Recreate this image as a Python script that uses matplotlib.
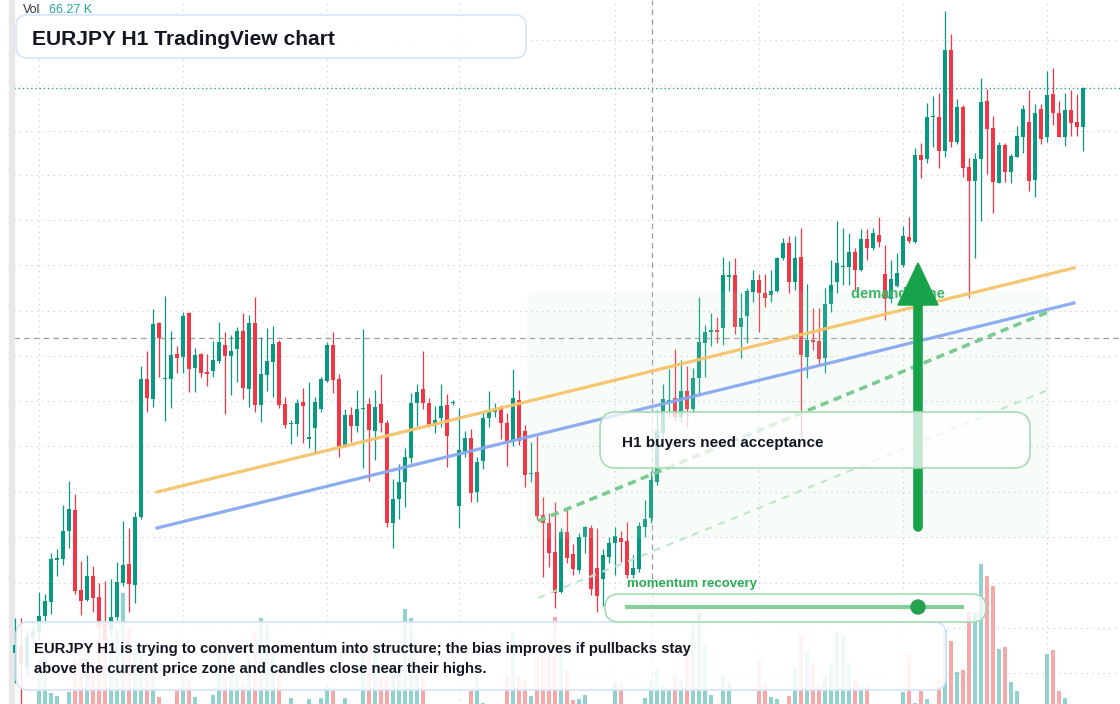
import numpy as np
import matplotlib
matplotlib.use("Agg")
import matplotlib.pyplot as plt
import matplotlib.transforms as mtransforms
from matplotlib.patches import FancyBboxPatch, Polygon, Rectangle, Circle

plt.rcParams['font.family'] = ['Liberation Sans', 'DejaVu Sans']
plt.rcParams['lines.scale_dashes'] = False

W, H = 1120, 704

# EURJPY H1 candles (oldest -> newest)
opens = np.array([
    164.347, 164.354, 164.332, 164.363, 164.368, 164.384, 164.398, 164.440, 164.441, 164.469,
    164.490, 164.410, 164.400, 164.424, 164.403, 164.376, 164.370, 164.383, 164.417, 164.436,
    164.415, 164.483, 164.621, 164.601, 164.677, 164.621, 164.621, 164.646, 164.643, 164.687,
    164.632, 164.646, 164.628, 164.629, 164.639, 164.655, 164.644, 164.651, 164.669, 164.611,
    164.677, 164.595, 164.625, 164.638, 164.658, 164.596, 164.576, 164.576, 164.598, 164.561,
    164.572, 164.591, 164.619, 164.655, 164.621, 164.555, 164.585, 164.574, 164.591, 164.596,
    164.569, 164.596, 164.577, 164.477, 164.501, 164.518, 164.542, 164.597, 164.611, 164.597,
    164.576, 164.582, 164.595, 164.597, 164.494, 164.547, 164.562, 164.508, 164.539, 164.582,
    164.588, 164.591, 164.577, 164.559, 164.600, 164.569, 164.526, 164.528, 164.485, 164.477,
    164.448, 164.408, 164.468, 164.446, 164.430, 164.463, 164.472, 164.432, 164.421, 164.443,
    164.457, 164.462, 164.459, 164.425, 164.431, 164.473, 164.482, 164.518, 164.567, 164.597,
    164.602, 164.583, 164.609, 164.591, 164.622, 164.657, 164.668, 164.670, 164.672, 164.723,
    164.725, 164.673, 164.684, 164.708, 164.720, 164.707, 164.705, 164.709, 164.742, 164.757,
    164.718, 164.743, 164.643, 164.660, 164.659, 164.642, 164.696, 164.718, 164.733, 164.733,
    164.748, 164.730, 164.761, 164.752, 164.765, 164.726, 164.701, 164.714, 164.735, 164.763,
    164.758, 164.845, 164.841, 164.883, 164.883, 164.849, 164.950, 164.858, 164.893, 164.833,
    164.819, 164.841, 164.899, 164.872, 164.817, 164.855, 164.828, 164.843, 164.863, 164.878,
    164.820, 164.891, 164.863, 164.906, 164.887, 164.863, 164.890, 164.878, 164.873])

closes = np.array([
    164.355, 164.336, 164.363, 164.369, 164.384, 164.399, 164.441, 164.442, 164.469, 164.491,
    164.409, 164.399, 164.424, 164.402, 164.373, 164.360, 164.383, 164.418, 164.435, 164.416,
    164.483, 164.621, 164.602, 164.676, 164.662, 164.622, 164.645, 164.642, 164.684, 164.631,
    164.645, 164.627, 164.626, 164.640, 164.658, 164.644, 164.649, 164.669, 164.612, 164.677,
    164.595, 164.626, 164.639, 164.656, 164.595, 164.575, 164.577, 164.597, 164.594, 164.563,
    164.598, 164.621, 164.655, 164.620, 164.553, 164.585, 164.574, 164.591, 164.592, 164.570,
    164.593, 164.577, 164.477, 164.501, 164.518, 164.543, 164.597, 164.608, 164.597, 164.575,
    164.580, 164.594, 164.564, 164.598, 164.550, 164.562, 164.507, 164.538, 164.582, 164.589,
    164.591, 164.577, 164.559, 164.602, 164.559, 164.525, 164.527, 164.484, 164.477, 164.447,
    164.407, 164.468, 164.442, 164.431, 164.463, 164.473, 164.411, 164.404, 164.445, 164.457,
    164.464, 164.458, 164.425, 164.432, 164.474, 164.481, 164.520, 164.569, 164.601, 164.600,
    164.583, 164.609, 164.591, 164.622, 164.658, 164.668, 164.670, 164.668, 164.725, 164.725,
    164.673, 164.682, 164.709, 164.720, 164.707, 164.702, 164.709, 164.742, 164.757, 164.718,
    164.742, 164.645, 164.660, 164.658, 164.641, 164.696, 164.715, 164.737, 164.734, 164.748,
    164.730, 164.761, 164.752, 164.767, 164.758, 164.701, 164.721, 164.727, 164.764, 164.759,
    164.845, 164.840, 164.883, 164.884, 164.849, 164.950, 164.858, 164.893, 164.832, 164.819,
    164.841, 164.898, 164.871, 164.818, 164.855, 164.828, 164.844, 164.864, 164.891, 164.819,
    164.887, 164.861, 164.905, 164.887, 164.863, 164.890, 164.877, 164.873, 164.912])

highs = np.array([
    164.382, 164.382, 164.370, 164.375, 164.408, 164.406, 164.447, 164.451, 164.495, 164.519,
    164.506, 164.439, 164.445, 164.434, 164.417, 164.419, 164.421, 164.438, 164.479, 164.472,
    164.488, 164.634, 164.649, 164.691, 164.678, 164.704, 164.669, 164.654, 164.688, 164.688,
    164.652, 164.647, 164.646, 164.659, 164.678, 164.668, 164.665, 164.673, 164.687, 164.685,
    164.703, 164.663, 164.672, 164.674, 164.660, 164.603, 164.580, 164.601, 164.612, 164.618,
    164.603, 164.623, 164.658, 164.668, 164.626, 164.591, 164.593, 164.610, 164.671, 164.602,
    164.610, 164.626, 164.580, 164.521, 164.536, 164.552, 164.607, 164.616, 164.649, 164.602,
    164.594, 164.616, 164.606, 164.600, 164.592, 164.569, 164.571, 164.543, 164.588, 164.609,
    164.597, 164.595, 164.587, 164.631, 164.610, 164.575, 164.558, 164.564, 164.503, 164.487,
    164.498, 164.472, 164.492, 164.456, 164.467, 164.474, 164.475, 164.472, 164.451, 164.463,
    164.473, 164.469, 164.478, 164.445, 164.478, 164.500, 164.529, 164.590, 164.616, 164.631,
    164.651, 164.640, 164.634, 164.632, 164.703, 164.675, 164.687, 164.683, 164.743, 164.739,
    164.742, 164.707, 164.712, 164.730, 164.726, 164.726, 164.730, 164.743, 164.762, 164.764,
    164.764, 164.772, 164.716, 164.692, 164.692, 164.712, 164.740, 164.779, 164.772, 164.767,
    164.752, 164.771, 164.771, 164.772, 164.783, 164.755, 164.740, 164.747, 164.774, 164.783,
    164.852, 164.857, 164.897, 164.904, 164.907, 164.989, 164.966, 164.901, 164.895, 164.842,
    164.847, 164.922, 164.911, 164.884, 164.858, 164.857, 164.846, 164.874, 164.895, 164.910,
    164.896, 164.896, 164.929, 164.932, 164.899, 164.907, 164.910, 164.906, 164.913])

lows = np.array([
    164.317, 164.294, 164.325, 164.358, 164.360, 164.376, 164.386, 164.424, 164.435, 164.452,
    164.406, 164.385, 164.399, 164.388, 164.360, 164.352, 164.365, 164.380, 164.414, 164.388,
    164.397, 164.481, 164.588, 164.593, 164.623, 164.579, 164.592, 164.627, 164.627, 164.608,
    164.608, 164.623, 164.614, 164.623, 164.637, 164.586, 164.605, 164.618, 164.601, 164.593,
    164.588, 164.578, 164.609, 164.603, 164.592, 164.572, 164.556, 164.564, 164.557, 164.552,
    164.546, 164.588, 164.618, 164.607, 164.543, 164.553, 164.558, 164.568, 164.532, 164.519,
    164.540, 164.568, 164.473, 164.452, 164.481, 164.493, 164.537, 164.574, 164.591, 164.573,
    164.567, 164.573, 164.533, 164.595, 164.472, 164.543, 164.498, 164.498, 164.531, 164.573,
    164.583, 164.561, 164.534, 164.554, 164.555, 164.513, 164.518, 164.480, 164.423, 164.433,
    164.392, 164.407, 164.437, 164.425, 164.427, 164.447, 164.405, 164.388, 164.394, 164.437,
    164.425, 164.438, 164.422, 164.422, 164.428, 164.463, 164.477, 164.515, 164.556, 164.583,
    164.580, 164.578, 164.573, 164.587, 164.605, 164.623, 164.654, 164.657, 164.655, 164.709,
    164.666, 164.642, 164.657, 164.698, 164.668, 164.693, 164.698, 164.708, 164.740, 164.707,
    164.710, 164.563, 164.622, 164.650, 164.634, 164.627, 164.688, 164.707, 164.715, 164.715,
    164.710, 164.729, 164.740, 164.750, 164.753, 164.680, 164.697, 164.713, 164.733, 164.757,
    164.757, 164.822, 164.837, 164.853, 164.832, 164.843, 164.853, 164.856, 164.823, 164.702,
    164.742, 164.779, 164.826, 164.787, 164.817, 164.818, 164.817, 164.843, 164.847, 164.809,
    164.803, 164.856, 164.858, 164.875, 164.863, 164.854, 164.864, 164.864, 164.849])

# volume per bar, thousands
volumes = np.array([
    2, 2, 2, 2, 48, 53, 15, 12, 2, 16,
    49, 49, 49, 46, 68, 82, 68, 78, 115, 81,
    55, 55, 50, 61, 11, 2, 2, 18, 35, 28,
    11, 2, 2, 13, 55, 55, 52, 35, 23, 50,
    75, 90, 83, 55, 38, 2, 10, 2, 2, 9,
    2, 10, 23, 17, 2, 10, 2, 2, 55, 66,
    61, 31, 33, 46, 46, 99, 90, 48, 33, 2,
    2, 2, 2, 2, 2, 2, 17, 42, 5, 2,
    2, 2, 31, 76, 33, 27, 12, 55, 55, 55,
    91, 60, 38, 8, 9, 13, 2, 2, 2, 2,
    26, 22, 2, 2, 2, 10, 28, 39, 23, 18,
    34, 28, 55, 83, 95, 63, 13, 2, 32, 26,
    2, 2, 2, 2, 48, 23, 11, 9, 2, 12,
    41, 74, 57, 43, 22, 33, 44, 76, 73, 45,
    27, 21, 23, 2, 2, 2, 2, 2, 16, 55,
    5, 17, 9, 2, 28, 78, 67, 36, 38, 96,
    95, 144, 132, 122, 59, 61, 26, 17, 2, 2,
    2, 2, 54, 58, 17, 10, 2, 2, 2])

grid_prices = [164.960, 164.915, 164.869, 164.825, 164.780, 164.735, 164.689, 164.644,
               164.599, 164.554, 164.508, 164.463, 164.417, 164.372, 164.327]
grid_bars = [4, 28, 52, 74, 100, 124, 148, 172]
last_price = 164.912
cross_bar, cross_price = 106.17, 164.662

# drawn trend lines: (bar, price) endpoints
orange_line = ([23.67, 176.5], [164.508, 164.732])
blue_line = ([23.67, 176.5], [164.472, 164.697])
green_dash = ([87.17, 172.17], [164.479, 164.688])
green_dash_light = ([87.17, 172.17], [164.402, 164.610])

UP, DOWN = '#089981', '#f23645'
UP_VOL, DOWN_VOL = '#92d2cc', '#f7a9a9'

fig = plt.figure(figsize=(W / 100, H / 100), dpi=100)
fig.patch.set_facecolor('white')
ax_vol = fig.add_axes([0, 0, 1, 1], zorder=0)
ax = fig.add_axes([0, 0, 1, 1], zorder=1, sharex=ax_vol)
ax.patch.set_alpha(0)
for a in (ax_vol, ax):
    a.set_axis_off()
ax.set_xlim(-2.5, 184.17)
ax.set_ylim(164.296, 165.0)
# volume pane base sits a few px below the visible area
ax_vol.set_ylim(4, 708)

# pixel coordinates (y down) for the overlay widgets
pix = mtransforms.Affine2D().scale(1 / W, -1 / H).translate(0, 1) + fig.transFigure

x = np.arange(len(opens))
up = closes >= opens

# grid, price line and crosshair under everything
ax_vol.hlines(grid_prices, -0.17, 184.2, colors='#d4d4d4', lw=0.8,
              linestyles=[(0, (1, 3))], transform=ax.transData)
ax_vol.vlines(grid_bars, 0, 708, colors='#d4d4d4', lw=0.8, linestyles=[(0, (1, 3))])
ax_vol.hlines([last_price], -0.17, 184.2, colors='#26a69a', lw=1.0,
              linestyles=[(0, (1, 2))], transform=ax.transData)
ax_vol.hlines([cross_price], -0.17, 184.2, colors='#9c9c9c', lw=0.9,
              linestyles=[(0, (4, 3))], transform=ax.transData)
ax_vol.vlines([cross_bar], 0, 708, colors='#9c9c9c', lw=0.9, linestyles=[(0, (4, 3))])

# volume
ax_vol.bar(x, volumes, width=0.82, color=np.where(up, UP_VOL, DOWN_VOL), linewidth=0, zorder=2)

# candles
cols = np.where(up, UP, DOWN)
ax.vlines(x, lows, highs, colors=cols, lw=0.9, zorder=2)
body = np.maximum(np.abs(closes - opens), 0.0012)
ax.bar(x, body, bottom=np.minimum(opens, closes), width=0.8, color=cols, linewidth=0, zorder=2.1)

# left strip
ax.add_patch(Rectangle((9, 0), 5, H, transform=pix, color='#e8e8e8', zorder=1))

# demand zone
ax.add_patch(FancyBboxPatch((527, 292), 523, 246, boxstyle='round,pad=0,rounding_size=10',
                            transform=pix, fc='#c8ecd2', ec='none', alpha=0.12, zorder=2.5))

# trend lines
ax.plot(*orange_line, color='#f6c36a', lw=2.3, alpha=0.95, zorder=3)
ax.plot(*blue_line, color='#88a8f0', lw=2.3, alpha=0.95, zorder=3)
ax.plot(*green_dash, color='#7acb92', lw=2.6, ls=(0, (6, 4)), zorder=3)
ax.plot(*green_dash_light, color='#bce6c9', lw=1.5, ls=(0, (5, 5)), zorder=3)

ax.text(851, 298, 'demand zone', transform=pix, fontsize=10.5, fontweight='bold',
        color='#3fb566', va='baseline', zorder=4)

# arrow
ax.plot([918, 918], [527, 302], transform=pix, color='#16a34a', lw=6.9,
        solid_capstyle='round', zorder=4.5)
ax.add_patch(Polygon([[898, 305], [938, 305], [918, 263]], closed=True, transform=pix,
                     color='#16a34a', zorder=4.5))

# boxes
def box(x0, y0, w, h, r, ec, alpha):
    ax.add_patch(FancyBboxPatch((x0, y0), w, h, boxstyle=f'round,pad=0,rounding_size={r}',
                                transform=pix, fc=(1, 1, 1, alpha), ec=ec, lw=1.2, zorder=5))

box(16, 15, 510, 43, 11, '#d6e4f7', 0.92)
box(16, 622, 930, 68, 13, '#d6e4f7', 0.88)
box(600, 412, 430, 56, 16, '#a7dbb4', 0.75)
box(605, 594, 381, 28, 14, '#a7dbb4', 0.78)

ax.plot([627, 962], [607, 607], transform=pix, color='#85cf9c', lw=3, zorder=6)
ax.add_patch(Circle((918, 607), 7, transform=pix, color='#22a24c', zorder=7))

dark = '#131722'
ax.text(23, 13, 'Vol', transform=pix, fontsize=9, color='#333333', va='baseline', zorder=8)
ax.text(49, 13, '66.27 K', transform=pix, fontsize=9, color='#26a69a', va='baseline', zorder=8)
ax.text(32, 45, 'EURJPY H1 TradingView chart', transform=pix, fontsize=15.1,
        fontweight='bold', color=dark, va='baseline', zorder=8)
ax.text(34, 653, 'EURJPY H1 is trying to convert momentum into structure; the bias improves if pullbacks stay',
        transform=pix, fontsize=10.75, fontweight='bold', color=dark, va='baseline', zorder=8)
ax.text(34, 673, 'above the current price zone and candles close near their highs.',
        transform=pix, fontsize=10.75, fontweight='bold', color=dark, va='baseline', zorder=8)
ax.text(622, 447, 'H1 buyers need acceptance', transform=pix, fontsize=11,
        fontweight='bold', color=dark, va='baseline', zorder=8)
ax.text(627, 587, 'momentum recovery', transform=pix, fontsize=9.5, fontweight='bold',
        color='#2aac54', va='baseline', zorder=8)

fig.savefig('out.png', dpi=100, facecolor='white')
